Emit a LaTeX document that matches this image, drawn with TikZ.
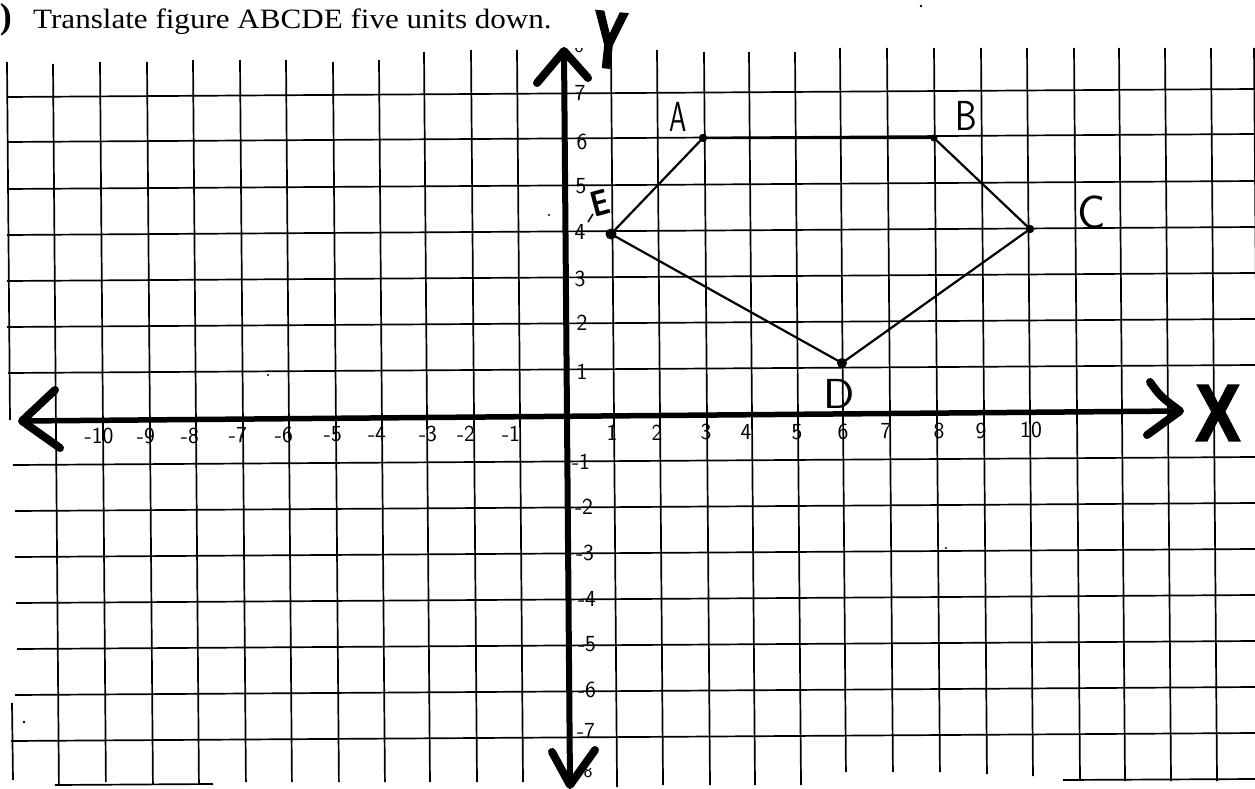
\documentclass[tikz,border=0pt]{standalone}
\usepackage{fontspec}
\usepackage{graphicx}
\newfontfamily\titlefont{Liberation Serif}
\newfontfamily\heavysans[FakeBold=3]{Liberation Sans Bold}
\tikzset{
  gridline/.style={line width=1.7pt, line cap=butt},
  axisline/.style={line width=5.5pt, line cap=round},
  headstroke/.style={line width=8pt, line cap=round, line join=round},
  edge/.style={line width=2.2pt, line join=round},
  tick/.style={font=\sffamily\fontsize{23}{23}\selectfont, inner sep=0pt},
  vlabel/.style={font=\sffamily\fontsize{42}{42}\selectfont, inner sep=0pt},
  axlabel/.style={font=\heavysans\fontsize{80}{80}\selectfont, inner sep=0pt},
  vertexdot/.style={fill=black},
  speck/.style={fill=black},
}
\begin{document}
\begin{tikzpicture}[x=1pt,y=-1pt]
\useasboundingbox (0,0) rectangle (1255,789);
\fill[white] (0,0) rectangle (1255,789);

% ---- title ----
\node[anchor=east, inner sep=0pt, font=\titlefont\bfseries\fontsize{36}{36}\selectfont] (paren) at (12,20) {)};
\node[anchor=base west, inner sep=0pt, font=\titlefont\fontsize{28}{28}\selectfont] (title) at (33,29)
  {\scalebox{1.11}[1]{Translate figure ABCDE five units down.}};

% ---- grid: vertical lines (x at top, top y, bottom y) ----
\foreach \x/\t/\b in {53/64/784, 100/62/782, 147/62/784, 193/60/784, 240/60/782, 286/60/782,
  333/62/782, 379/60/782, 424/52/782, 471/50/782, 517/50/782, 611/50/787, 657/50/785,
  704/52/785, 749/52/785, 795/52/785, 840/48/772, 887/48/772, 934/48/772, 981/48/774,
  1027/48/776, 1074/48/780, 1119/48/781, 1165/48/781, 1211/48/781}
  \draw[gridline] (\x,\t) -- ({\x+6*(\b-\t)/732},\b);
% left and right borders, bottom stubs
\draw[gridline] (7,62) -- (10,420);
\draw[gridline] (1254,48) -- (1256,300);
\draw[gridline] (12,703) -- (13,780);
% ---- grid: horizontal lines (y at centre, left x) ----
\foreach \y/\a in {93/7, 138/7, 185/7, 231/7, 277/7, 323/7, 369/8, 461/13, 507/15,
  553/15, 599/16, 645/17, 691/15, 737/11}
  \draw[gridline] (\a,{\y+4}) -- (1255,{\y-4});
\draw[gridline] (55,785) -- (213,784);
\draw[gridline] (1063,780) -- (1255,779);

% ---- axes ----
\coordinate (xl) at (22,421);
\coordinate (xr) at (1180,411);
\coordinate (yt) at (564,51);
\coordinate (yb) at (570,785);
\draw[axisline] (xl) -- (xr);
\draw[axisline, line width=6pt] (yt) -- (yb);
% hand-drawn arrow heads
\coordinate (ytl) at (537,83);  \coordinate (ytr) at (588,78);
\coordinate (ybl) at (552,752); \coordinate (ybr) at (595,750);
\coordinate (xlu) at (55,390);  \coordinate (xld) at (60,448);
\coordinate (xru) at (1150,382); \coordinate (xrd) at (1147,435);
\draw[headstroke] (ytl) -- (yt) -- (ytr);
\draw[headstroke] (ybl) -- (yb) -- (ybr);
\draw[headstroke] (xlu) -- (xl) -- (xld);
\draw[headstroke] (xru) .. controls (1160,396) .. (xr) -- (xrd);

% axis names
\node[axlabel] (Xname) at (1218,413) {\scalebox{0.82}[1]{X}};
\node[axlabel, rotate=-6] (Yname) at (609,40) {\scalebox{0.62}[1]{Y}};

% ---- tick labels on x-axis ----
\foreach \x/\t [count=\i] in {99/-10, 146/-9, 190/-8, 238/-7, 284/-6, 333/-5, 377/-4,
  428/-3, 466/-2, 511/-1, 612/1, 657/2, 706/3, 746/4, 797/5, 843/6, 886/7, 939/8, 981/9, 1031/10}
  \node[tick] (xt\i) at (\x,{433-0.006*(\x-600)}) {\t};
% ---- tick labels on y-axis ----
\foreach \x/\y/\t [count=\i] in {580/93/7, 582/142/6, 581/186/5, 580/232/4, 580/279/3,
  582/323/2, 582/372/1, 581/462/-1, 584/507/-2, 585/553/-3, 587/599/-4, 587/644/-5,
  587/690/-6, 586/731/-7}
  \node[tick] (yt\i) at (\x,\y) {\t};
\begin{scope}
  \clip (565,49) rectangle (600,62);
  \node[tick, font=\sffamily\fontsize{19}{19}\selectfont] (ytop) at (579,46) {8};
\end{scope}
\begin{scope}
  \clip (576,768) rectangle (600,782);
  \node[tick, font=\sffamily\fontsize{19}{19}\selectfont] (ybot) at (588,771) {8};
\end{scope}

% ---- figure ABCDE ----
\coordinate (A) at (703,138);
\coordinate (B) at (934,138);
\coordinate (C) at (1030,229);
\coordinate (D) at (842,363);
\coordinate (E) at (611,234);
\draw[edge] (A) -- (B) -- (C) -- (D) -- (E) -- cycle;
\fill[vertexdot] (A) circle (4.2);
\fill[vertexdot] (B) circle (3.6);
\fill[vertexdot] (C) circle (4.2);
\fill[vertexdot] (D) circle (5);
\fill[vertexdot] (E) circle (5.5);

\node[vlabel] (lA) at (678,117) {\scalebox{0.66}[1]{A}};
\node[vlabel] (lB) at (966,116) {\scalebox{0.82}[1]{B}};
\node[vlabel, font=\sffamily\fontsize{47}{47}\selectfont] (lC) at (1092,212) {C};
\node[vlabel] (lD) at (839,394) {\scalebox{1.1}[1]{D}};
\node[vlabel, font=\sffamily\bfseries\fontsize{36}{36}\selectfont, rotate=15] (lE) at (600,203) {\scalebox{0.8}[1]{E}};
\draw[line width=1.5pt] (588,222) -- (593,214);

% ---- specks of the scan ----
\fill[speck] (921,6) circle (1.4);
\fill[speck] (268,375) circle (1.2);
\fill[speck] (24,722) circle (1.4);
\fill[speck] (549,215) circle (1.2);
\fill[speck] (946,548) circle (1.2);
\end{tikzpicture}
\end{document}
